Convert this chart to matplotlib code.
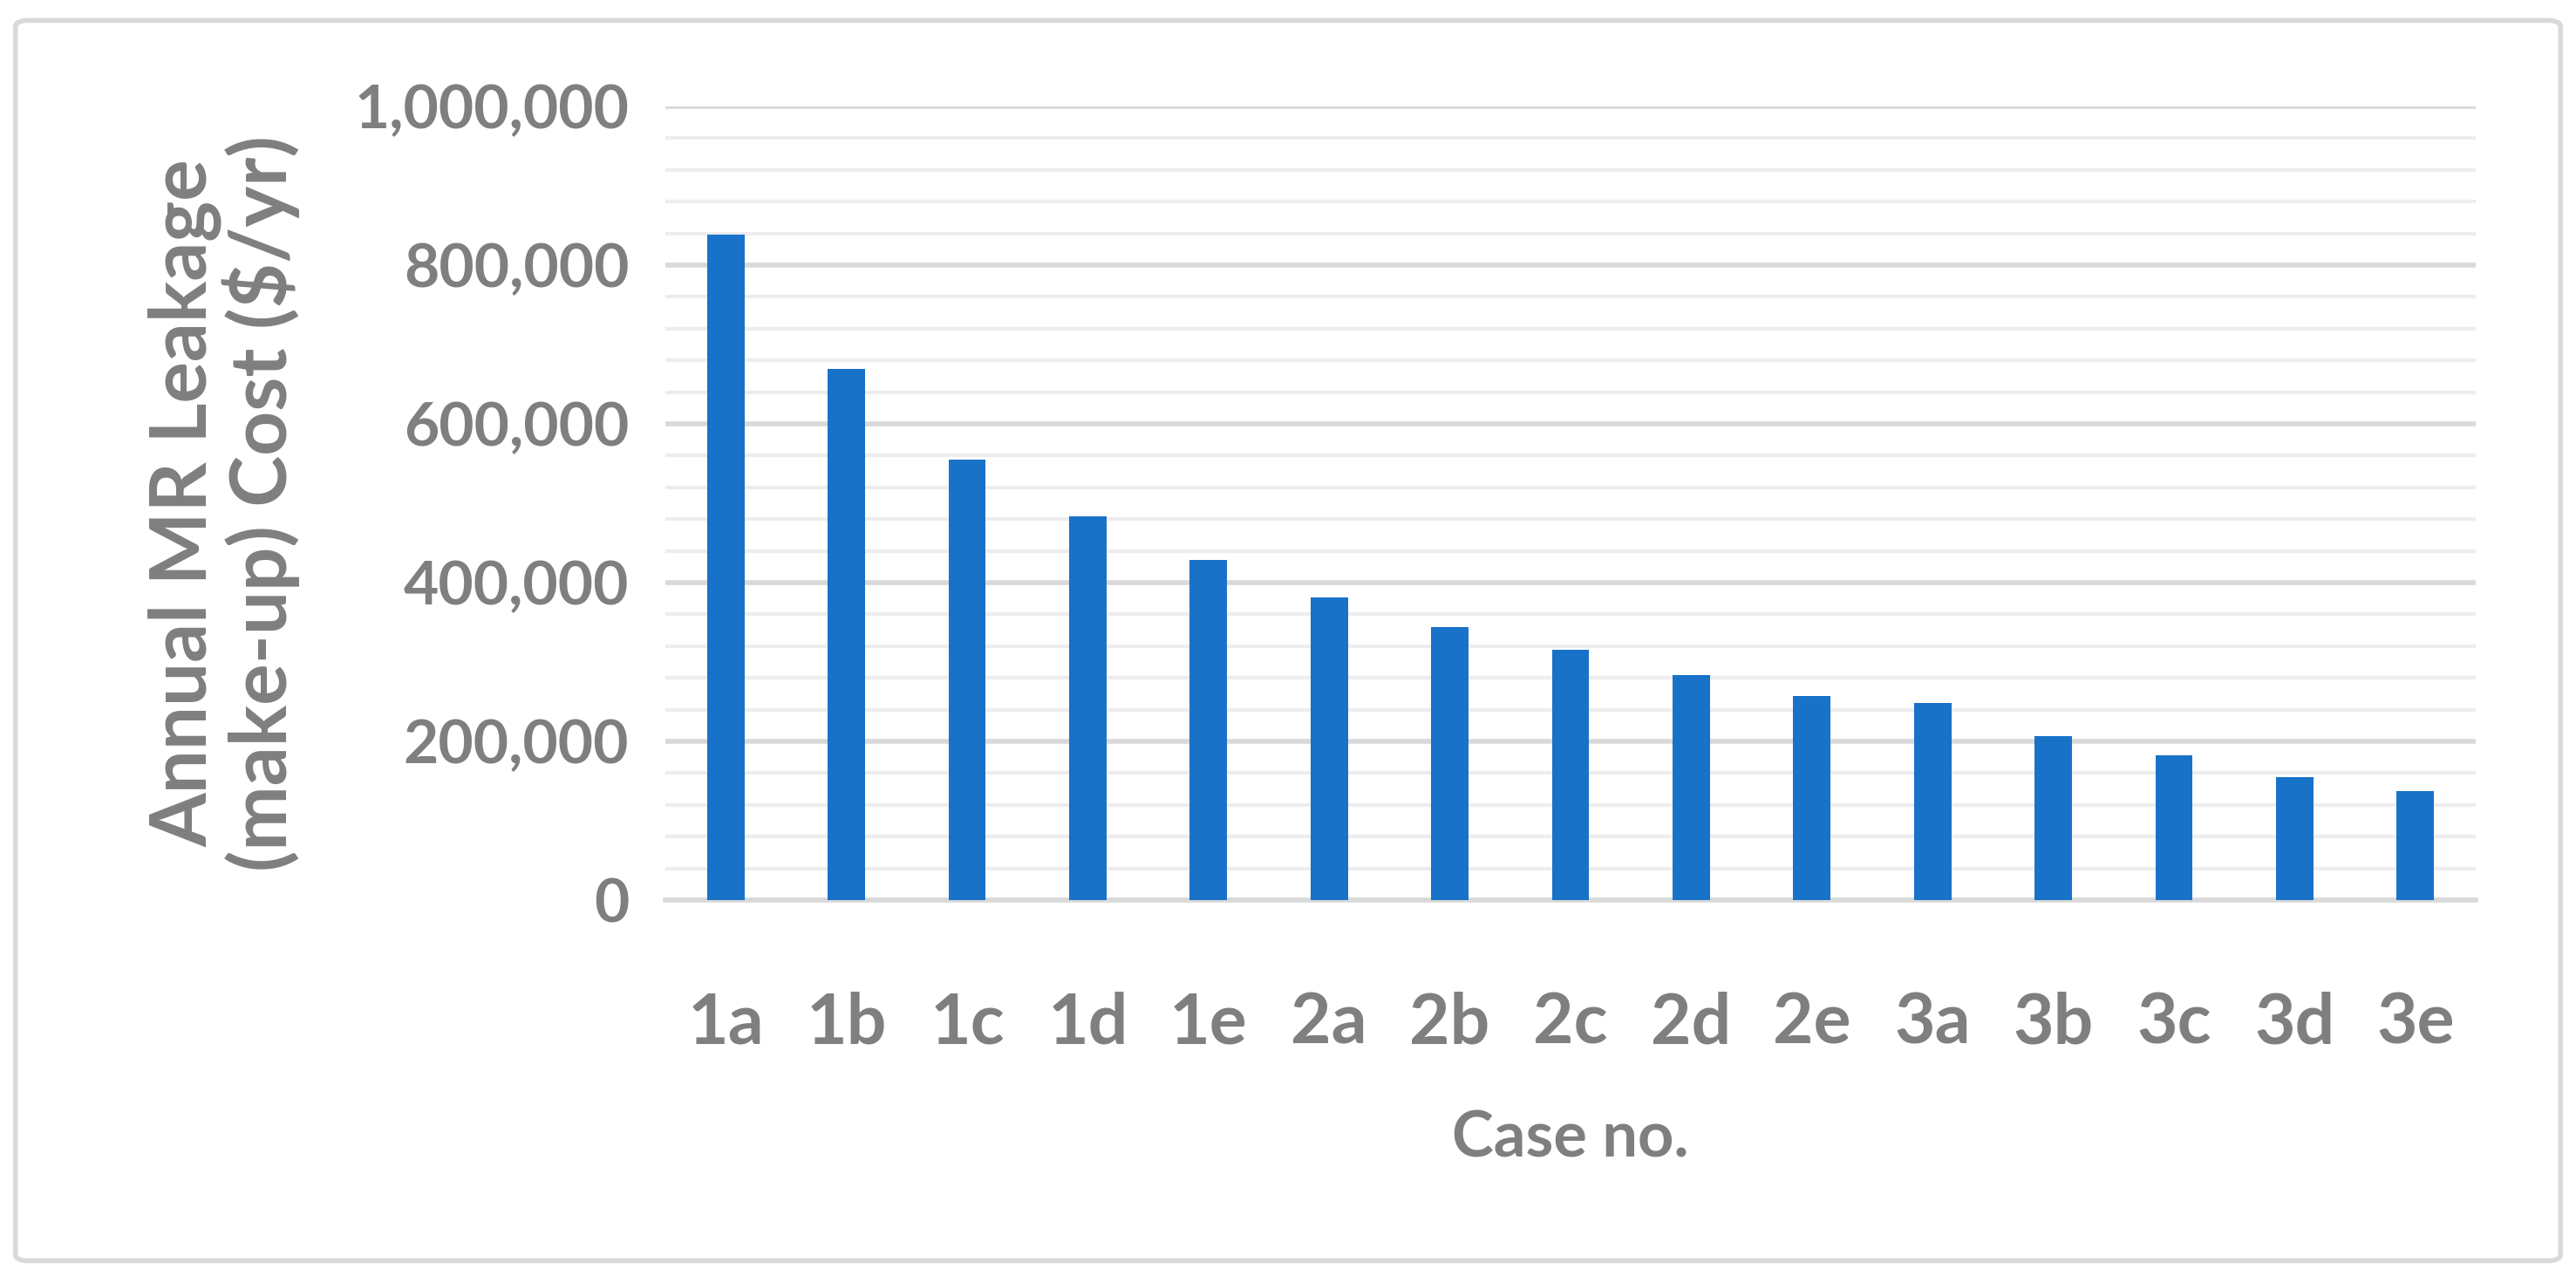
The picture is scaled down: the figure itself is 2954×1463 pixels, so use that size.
import matplotlib.pyplot as plt
from matplotlib.patches import FancyBboxPatch
from matplotlib.ticker import MultipleLocator, FuncFormatter

cases = ["1a", "1b", "1c", "1d", "1e", "2a", "2b", "2c", "2d", "2e",
         "3a", "3b", "3c", "3d", "3e"]
costs = [838000, 669000, 555000, 484000, 429000, 381000, 344000, 315000,
         284000, 257000, 248000, 207000, 182000, 155000, 137000]

plt.rcParams['font.family'] = ['Lato', 'DejaVu Sans']
grey = "#7f7f7f"

fig = plt.figure(figsize=(29.54, 14.63), dpi=100)
ax = fig.add_axes([763 / 2954, 1 - 1032 / 1463, (2839 - 763) / 2954, (1032 - 122) / 1463])

ax.bar(range(len(cases)), costs, width=0.31, color="#1872c8", zorder=3)
ax.set_xlim(-0.5, len(cases) - 0.5)
ax.set_ylim(0, 1000000)
ax.yaxis.set_major_locator(MultipleLocator(200000))
ax.yaxis.set_minor_locator(MultipleLocator(40000))
ax.yaxis.set_major_formatter(FuncFormatter(lambda v, p: f"{int(v):,}"))
ax.grid(axis="y", which="major", color="#d9d9d9", lw=4, zorder=0)
ax.grid(axis="y", which="minor", color="#ededed", lw=3, zorder=0)
ax.set_xticks(range(len(cases)))
ax.set_xticklabels(cases)
for s in ["top", "right", "left"]:
    ax.spines[s].set_visible(False)
ax.spines["bottom"].set_color("#d9d9d9")
ax.spines["bottom"].set_linewidth(4)
ax.tick_params(axis="both", which="both", length=0, colors=grey)
ax.tick_params(axis="x", labelsize=58, pad=75)
ax.tick_params(axis="y", labelsize=50, pad=30)
for t in ax.get_xticklabels() + ax.get_yticklabels():
    t.set_fontweight("bold")

ax.set_xlabel("Case no.", fontsize=52, fontweight="bold", color=grey, labelpad=45)
ax.set_ylabel("Annual MR Leakage\n(make-up) Cost ($/yr)", fontsize=64,
              fontweight="bold", color=grey, labelpad=45, linespacing=1.0)

border = FancyBboxPatch((0.006, 0.012), 0.988, 0.972, boxstyle="round,pad=0,rounding_size=0.005",
                        transform=fig.transFigure, fill=False, ec="#d9d9d9", lw=4)
fig.patches.append(border)

fig.savefig("out.png", dpi=100)
